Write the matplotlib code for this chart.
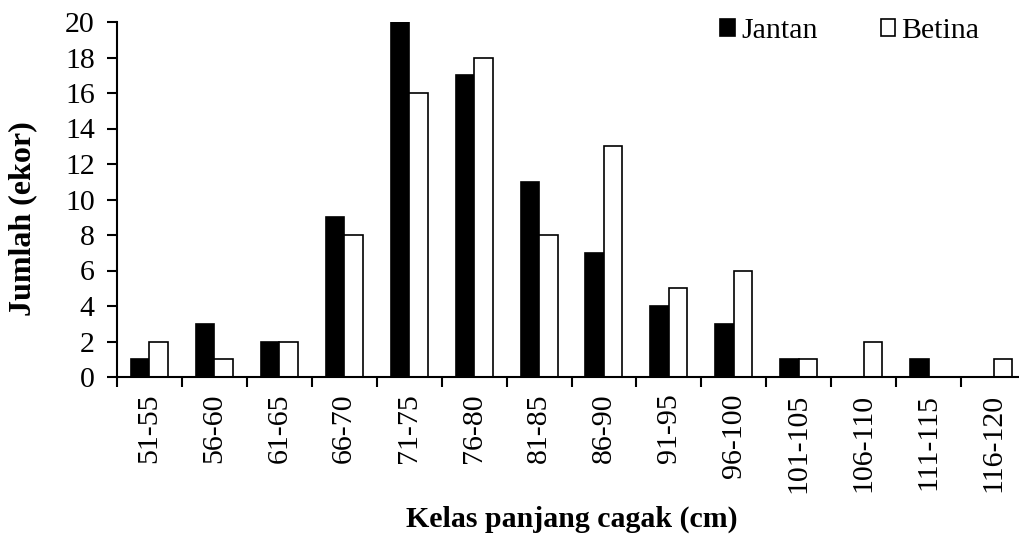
import matplotlib
matplotlib.use("Agg")
import matplotlib.pyplot as plt
import numpy as np

categories = ["51-55", "56-60", "61-65", "66-70", "71-75", "76-80", "81-85",
              "86-90", "91-95", "96-100", "101-105", "106-110", "111-115", "116-120"]
jantan = [1, 3, 2, 9, 20, 17, 11, 7, 4, 3, 1, 0, 1, 0]
betina = [2, 1, 2, 8, 16, 18, 8, 13, 5, 6, 1, 2, 0, 1]

plt.rcParams['font.family'] = ['Liberation Serif', 'DejaVu Serif']

fig = plt.figure(figsize=(10.19, 5.36), dpi=100)
ax = fig.add_axes([117/1019, 1-377/536, (1026-117)/1019, (377-22)/536])

x = np.arange(len(categories)) + 0.5
w = 0.285
ax.bar(x - w/2, jantan, width=w, color='black', edgecolor='black', linewidth=1.2, label='Jantan')
ax.bar(x + w/2, betina, width=w, color='white', edgecolor='black', linewidth=1.2, label='Betina')

ax.set_xlim(0, len(categories))
ax.set_ylim(0, 20)
ax.set_yticks(range(0, 21, 2))
ax.tick_params(axis='y', labelsize=21.5, direction='out', length=7, width=1.5, pad=9)
ax.set_xticks(np.arange(len(categories)))
ax.set_xticklabels([])
ax.set_xticks(x, minor=True)
ax.set_xticklabels(categories, minor=True, rotation=90, fontsize=21.5)
ax.tick_params(axis='x', which='major', direction='out', length=7, width=1.5)
ax.tick_params(axis='x', which='minor', length=0, pad=12)

for s in ['top', 'right']:
    ax.spines[s].set_visible(False)
for s in ['left', 'bottom']:
    ax.spines[s].set_linewidth(1.5)

fig.text(23/1019, 1-219/536, 'Jumlah (ekor)', fontsize=23, fontweight='bold',
         rotation=90, ha='center', va='center')
fig.text(572/1019, 1-519/536, 'Kelas panjang cagak (cm)', fontsize=21.5, fontweight='bold',
         ha='center', va='center')

ax.legend(loc='upper left', bbox_to_anchor=(704/1019, 1.0 - 2/536), bbox_transform=fig.transFigure,
          ncol=2, frameon=False, fontsize=21.5, handlelength=0.5, handleheight=0.5,
          handletextpad=0.2, columnspacing=2.1, borderaxespad=0.15)

fig.savefig('out.png', dpi=100)
